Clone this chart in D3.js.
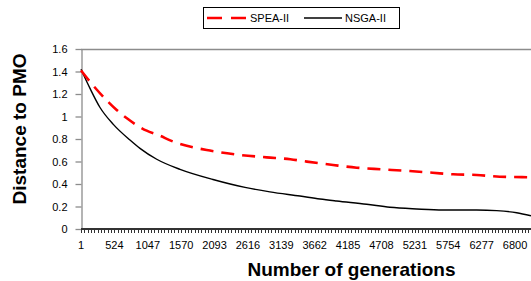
<!DOCTYPE html>
<html>
<head>
<meta charset="utf-8">
<script src="https://cdn.jsdelivr.net/npm/d3@7"></script>
<style>
  body { margin: 0; background: #fff; }
  svg { display: block; font-family: "Liberation Sans", Arial, sans-serif; }
</style>
</head>
<body>
<svg id="chart" width="531" height="281"></svg>
<script>
// generations sampled along each curve
const speaGen = [1, 200, 450, 560, 720, 1030, 1210, 1450, 1760, 1970, 2230, 2490, 2910, 3280, 3540, 3950, 4320, 4730, 5150, 5510, 5830, 6200, 6560, 7040];
const speaVal = [1.41, 1.27, 1.117, 1.058, 0.984, 0.874, 0.836, 0.776, 0.726, 0.702, 0.678, 0.658, 0.637, 0.62, 0.599, 0.569, 0.545, 0.53, 0.515, 0.5, 0.486, 0.48, 0.465, 0.46];

const nsgaGen = [1, 142, 299, 507, 768, 925, 1187, 1552, 2068, 2570, 2960, 3431, 3744, 4006, 4476, 4840, 5259, 5671, 6199, 6512, 6825, 7050];
const nsgaVal = [1.42, 1.25, 1.08, 0.93, 0.791, 0.717, 0.62, 0.53, 0.44, 0.37, 0.33, 0.293, 0.267, 0.249, 0.22, 0.193, 0.178, 0.169, 0.169, 0.163, 0.145, 0.118];

const xTickLabels = [1, 524, 1047, 1570, 2093, 2616, 3139, 3662, 4185, 4708, 5231, 5754, 6277, 6800];
const yTicks = [0, 0.2, 0.4, 0.6, 0.8, 1, 1.2, 1.4, 1.6];

const svg = d3.select("#chart");
const pLeft = 81, pRight = 531, pTop = 49, pBottom = 229;

const x = d3.scaleLinear().domain([1, 7050]).range([pLeft, pRight]);
const y = d3.scaleLinear().domain([0, 1.6]).range([pBottom, pTop]);

// plot border top
svg.append("line")
  .attr("x1", pLeft).attr("x2", pRight)
  .attr("y1", pTop + 0.5).attr("y2", pTop + 0.5)
  .attr("stroke", "#8c8c8c").attr("stroke-width", 1.3);

// y axis
const yAxis = svg.append("g")
  .attr("transform", "translate(" + (pLeft + 0.5) + ",0)")
  .call(d3.axisLeft(y).tickValues(yTicks).tickSize(6).tickSizeOuter(0)
    .tickFormat(d => d3.format("")(d)));
yAxis.selectAll("path,line").attr("stroke", "#8c8c8c").attr("stroke-width", 1.3);
yAxis.selectAll("text").attr("font-size", 11).attr("fill", "#000").attr("x", -14);

// x axis: minor ticks every tenth of a label step
const minor = d3.range(1, 7050, 52.3);
svg.append("g").selectAll("line").data(minor).enter().append("line")
  .attr("x1", d => Math.round(x(d)) + 0.5).attr("x2", d => Math.round(x(d)) + 0.5)
  .attr("y1", pBottom).attr("y2", pBottom + 4)
  .attr("stroke", "#333").attr("stroke-width", 1);
svg.append("line")
  .attr("x1", pLeft).attr("x2", pRight)
  .attr("y1", pBottom).attr("y2", pBottom)
  .attr("stroke", "#333").attr("stroke-width", 2);

svg.append("g").selectAll("text").data(xTickLabels).enter().append("text")
  .attr("x", d => x(d)).attr("y", 249)
  .attr("text-anchor", "middle").attr("font-size", 11)
  .text(d => d);

// lines
const line = d3.line().x(d => x(d[0])).y(d => y(d[1])).curve(d3.curveMonotoneX);

svg.append("path")
  .datum(nsgaGen.map((g, i) => [g, nsgaVal[i]]))
  .attr("d", line).attr("fill", "none")
  .attr("stroke", "#000").attr("stroke-width", 1.4);

svg.append("path")
  .datum(speaGen.map((g, i) => [g, speaVal[i]]))
  .attr("d", line).attr("fill", "none")
  .attr("stroke", "#ff0000").attr("stroke-width", 2.6)
  .attr("stroke-dasharray", "13,8");

// titles
svg.append("text")
  .attr("x", 351.5).attr("y", 276)
  .attr("text-anchor", "middle").attr("font-size", 19).attr("font-weight", "bold")
  .text("Number of generations");

svg.append("text")
  .attr("transform", "translate(26,129) rotate(-90)")
  .attr("text-anchor", "middle").attr("font-size", 19).attr("font-weight", "bold")
  .text("Distance to PMO");

// legend
const lg = svg.append("g");
lg.append("rect").attr("x", 203.5).attr("y", 7.5).attr("width", 196).attr("height", 21)
  .attr("fill", "#fff").attr("stroke", "#000").attr("stroke-width", 1);
lg.append("line").attr("x1", 207).attr("x2", 246).attr("y1", 18).attr("y2", 18)
  .attr("stroke", "#ff0000").attr("stroke-width", 2.6).attr("stroke-dasharray", "15,9");
lg.append("text").attr("x", 250).attr("y", 22).attr("font-size", 11).text("SPEA-II");
lg.append("line").attr("x1", 304).attr("x2", 342).attr("y1", 18).attr("y2", 18)
  .attr("stroke", "#000").attr("stroke-width", 1.4);
lg.append("text").attr("x", 345).attr("y", 22).attr("font-size", 11).text("NSGA-II");
</script>
</body>
</html>
